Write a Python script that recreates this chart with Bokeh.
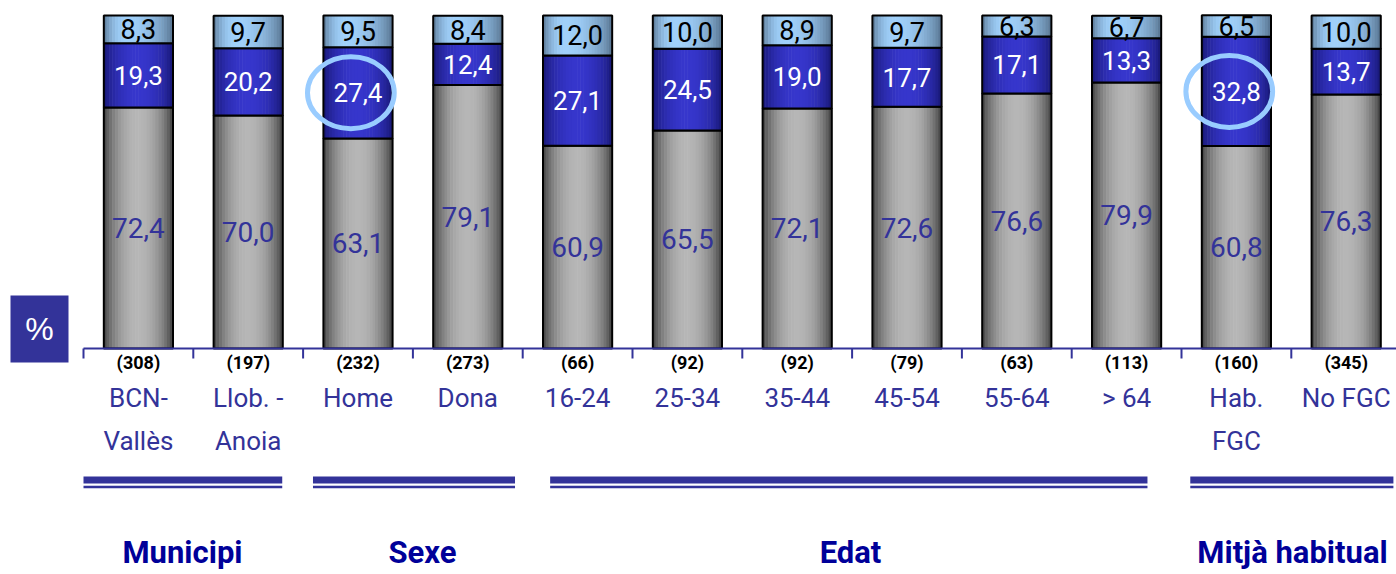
import numpy as np
from bokeh.plotting import figure
from bokeh.models import Range1d
from bokeh.core.properties import value
from bokeh.embed import file_html
from bokeh.resources import INLINE

# ---- data -------------------------------------------------------------
categories = ["BCN-\nVallès", "Llob. -\nAnoia", "Home", "Dona", "16-24", "25-34",
              "35-44", "45-54", "55-64", "> 64", "Hab.\nFGC", "No FGC"]
sample_sizes = [308, 197, 232, 273, 66, 92, 92, 79, 63, 113, 160, 345]
gray_values = [72.4, 70.0, 63.1, 79.1, 60.9, 65.5, 72.1, 72.6, 76.6, 79.9, 60.8, 76.3]
blue_values = [19.3, 20.2, 27.4, 12.4, 27.1, 24.5, 19.0, 17.7, 17.1, 13.3, 32.8, 13.7]
light_values = [8.3, 9.7, 9.5, 8.4, 12.0, 10.0, 8.9, 9.7, 6.3, 6.7, 6.5, 10.0]
groups = ["Municipi", "Sexe", "Edat", "Mitjà habitual"]
highlighted = ["Home", "Hab.\nFGC"]

# ---- layout helpers ---------------------------------------------------
PX_X = 109.8          # pixels per category slot
PX_Y = 3.33           # pixels per percentage point
ORIGIN_X, ORIGIN_Y = 83, 348
W_PX, H_PX = 1396, 574

X0 = -ORIGIN_X / PX_X
X1 = X0 + W_PX / PX_X
Y1 = ORIGIN_Y / PX_Y
Y0 = Y1 - H_PX / PX_Y


def dx(px):
    return (px - ORIGIN_X) / PX_X


def dy(py):
    return (ORIGIN_Y - py) / PX_Y


NAVY = "#333399"
FONT = value("Roboto")

n = len(categories)
centers = np.arange(n) + 0.5
gray = np.array(gray_values)
blue = np.array(blue_values)
light = np.array(light_values)
b0 = np.zeros(n)
b1 = gray
b2 = gray + blue
b3 = gray + blue + light

p = figure(width=W_PX, height=H_PX, x_range=Range1d(X0, X1), y_range=Range1d(Y0, Y1),
           min_border=0, x_axis_location=None, y_axis_location=None,
           toolbar_location=None, output_backend="svg", outline_line_color=None,
           background_fill_color="white", border_fill_color="white")
p.grid.visible = False

BAR_W = 0.63
N_STRIPS = 24


def shade(t, dark, bright, peak):
    span = peak if t < peak else 1 - peak
    s = 1 - ((t - peak) / span) ** 2
    s = max(0.0, s) ** 0.8
    r, g, b = (int(round(d + (l - d) * s)) for d, l in zip(dark, bright))
    return f"#{r:02x}{g:02x}{b:02x}"


def cylinder(bottom, top, dark, bright, peak):
    sw = BAR_W / N_STRIPS
    for j in range(N_STRIPS):
        t = (j + 0.5) / N_STRIPS
        p.vbar(x=centers - BAR_W / 2 + (j + 0.5) * sw, width=sw * 1.2,
               bottom=bottom, top=top, fill_color=shade(t, dark, bright, peak),
               line_color=None)
    p.vbar(x=centers, width=BAR_W, bottom=bottom, top=top, fill_color=None,
           line_color="black", line_width=2)


cylinder(b0, b1, (58, 58, 58), (182, 182, 182), 0.5)
cylinder(b1, b2, (22, 22, 112), (54, 54, 204), 0.5)
cylinder(b2, b3, (84, 112, 140), (160, 208, 250), 0.32)


def fmt(v):
    return f"{v:.1f}".replace(".", ",")


p.text(x=centers, y=(b0 + b1) / 2, text=[fmt(v) for v in gray], text_font=FONT,
       text_font_size="28px", text_color=NAVY, text_align="center",
       text_baseline="middle")
p.text(x=centers, y=(b1 + b2) / 2, text=[fmt(v) for v in blue], text_font=FONT,
       text_font_size="26px", text_color="white", text_align="center",
       text_baseline="middle")
p.text(x=centers, y=(b2 + b3) / 2, text=[fmt(v) for v in light], text_font=FONT,
       text_font_size="27px", text_color="black", text_align="center",
       text_baseline="middle")

# highlight rings around selected blue segments
hi = [categories.index(c) for c in highlighted]
p.ellipse(x=centers[hi] - 0.065, y=((b1 + b2) / 2)[hi], width=0.79, height=21.6,
          fill_color=None, line_color="#99ccff", line_width=5)

# category axis
p.segment(x0=[0], y0=[0], x1=[X1], y1=[0], line_color=NAVY, line_width=2)
ticks = np.arange(n + 1)
p.segment(x0=ticks, y0=0, x1=ticks, y1=dy(358), line_color=NAVY, line_width=2)

p.text(x=centers, y=dy(362), text=[f"({s})" for s in sample_sizes], text_font=FONT,
       text_font_size="18px", text_font_style="bold", text_color="black",
       text_align="center", text_baseline="middle")

line1 = [c.split("\n")[0] for c in categories]
line2 = [c.split("\n")[1] if "\n" in c else "" for c in categories]
p.text(x=centers, y=dy(397), text=line1, text_font=FONT, text_font_size="26px",
       text_color=NAVY, text_align="center", text_baseline="middle")
p.text(x=centers, y=dy(440), text=line2, text_font=FONT, text_font_size="26px",
       text_color=NAVY, text_align="center", text_baseline="middle")

# group brackets (double rule) and group titles
spans = [(0.0, 1.81), (2.09, 3.93), (4.25, 9.69), (10.08, 11.93)]
title_px = [182, 422, 850, 1292]
sx0 = [s[0] for s in spans]
sx1 = [s[1] for s in spans]
p.segment(x0=sx0, y0=dy(479.5), x1=sx1, y1=dy(479.5), line_color=NAVY, line_width=7)
p.segment(x0=sx0, y0=dy(486.5), x1=sx1, y1=dy(486.5), line_color=NAVY, line_width=2.5)
p.text(x=[dx(t) for t in title_px], y=dy(552), text=groups, text_font=FONT,
       text_font_size="31px", text_font_style="bold", text_color="#000099",
       text_align="center", text_baseline="middle")

# unit badge
p.quad(left=[dx(10)], right=[dx(68)], top=[dy(295)], bottom=[dy(362)],
       fill_color=NAVY, line_color=None)
p.text(x=[dx(39)], y=[dy(328)], text=["%"], text_font=value("Liberation Sans"),
       text_font_size="32px", text_color="white", text_align="center",
       text_baseline="middle")

open("out.html", "w").write(file_html(p, INLINE))
